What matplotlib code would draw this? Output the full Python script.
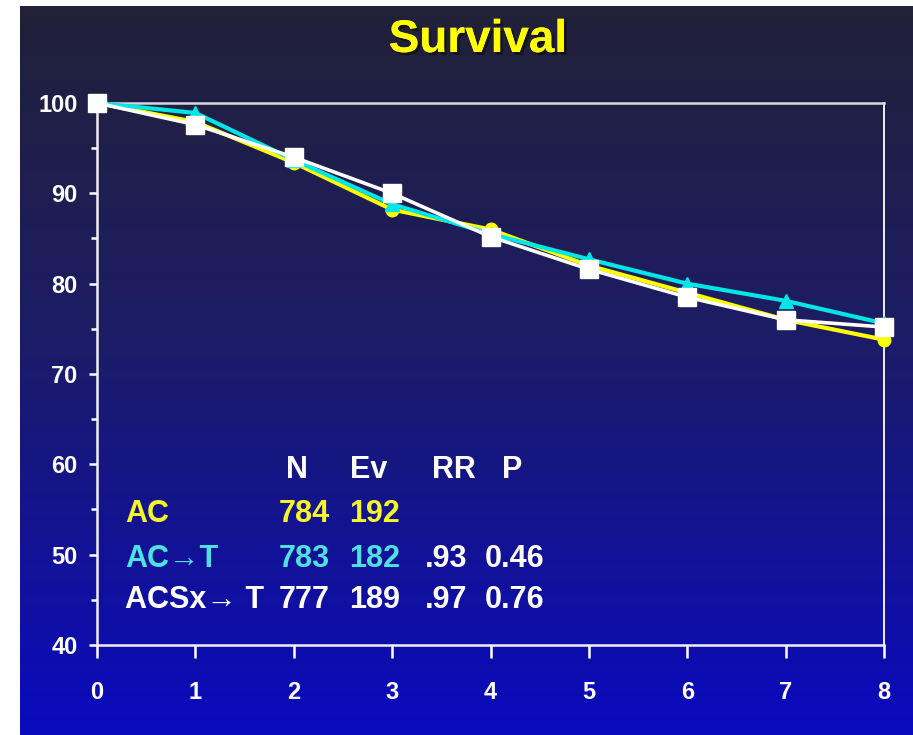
import numpy as np
import matplotlib
matplotlib.use("Agg")
import matplotlib.pyplot as plt
import matplotlib.patheffects as pe
from matplotlib.ticker import MultipleLocator

# ---- data ----
years = [0, 1, 2, 3, 4, 5, 6, 7, 8]
ac = [100, 97.9, 93.4, 88.2, 86.0, 82.0, 79.0, 76.0, 73.8]
ac_t = [100, 98.9, 93.7, 88.8, 85.5, 82.7, 80.0, 78.1, 75.6]
acsx_t = [100, 97.6, 94.0, 90.0, 85.2, 81.6, 78.5, 76.0, 75.2]
x_ticks = [0, 1, 2, 3, 4, 5, 6, 7, 8]
y_ticks = [40, 50, 60, 70, 80, 90, 100]
title = "Survival"
table_header = ["N", "Ev", "RR", "P"]
table_rows = ["AC", "AC\u2192T", "ACSx\u2192 T"]
table_n = ["784", "783", "777"]
table_ev = ["192", "182", "189"]
table_rr = ["", ".93", ".97"]
table_p = ["", "0.46", "0.76"]

W, H = 913, 735
fig = plt.figure(figsize=(W / 100, H / 100), dpi=100, facecolor="white")

# gradient background
bg = fig.add_axes([20 / W, 0, 1 - 20 / W, 729 / H], zorder=-10)
bg.axis("off")
n = 256
t = np.linspace(0, 1, n)[:, None]
top = np.array([0.13, 0.13, 0.22])
mid = np.array([0.11, 0.11, 0.40])
bot = np.array([0.04, 0.04, 0.75])
cols = np.where(t < 0.45, top + (mid - top) * (t / 0.45), mid + (bot - mid) * ((t - 0.45) / 0.55))
img = np.repeat(cols[:, None, :], 2, axis=1).reshape(n, 2, 3)
bg.imshow(img, aspect="auto", extent=[0, 1, 0, 1], interpolation="bicubic")
bg.set_xlim(0, 1); bg.set_ylim(0, 1)

narrow = ["Liberation Sans Narrow", "Liberation Sans", "DejaVu Sans"]
wide = ["Liberation Sans", "DejaVu Sans"]

ax = fig.add_axes([97 / W, 1 - 645 / H, (884 - 97) / W, (645 - 103) / H])
ax.set_facecolor("none")
ax.set_xlim(0, 8)
ax.set_ylim(40, 100)

ax.plot(years, ac, color="#ffff00", lw=3.0, marker="o", ms=9, mec="#ffff00", clip_on=False, zorder=3)
ax.plot(years, ac_t, color="#00e6e6", lw=3.0, marker="^", ms=10, mec="#00e6e6", clip_on=False, zorder=4)
ax.plot(years, acsx_t, color="white", lw=2.6, marker="s", ms=12.5, mec="white", clip_on=False, zorder=5)

for s in ax.spines.values():
    s.set_color("#f0f0f0")
    s.set_linewidth(1.8)
ax.spines["top"].set_color("#d8d8e0")
ax.spines["right"].set_linewidth(1.4)

ax.set_xticks(x_ticks)
ax.set_yticks(y_ticks)
ax.yaxis.set_minor_locator(MultipleLocator(5))
ax.tick_params(axis="x", which="major", direction="out", length=9, width=1.8, colors="white", pad=17)
ax.tick_params(axis="y", which="major", direction="out", length=6, width=1.8, colors="white", pad=8)
ax.tick_params(axis="y", which="minor", direction="out", length=4, width=1.8, colors="white")
for lab in ax.get_xticklabels() + ax.get_yticklabels():
    lab.set_fontfamily(narrow)
    lab.set_fontweight("bold")
    lab.set_fontsize(17)
    lab.set_color("white")

# title
fig.text(478 / W, 1 - 40 / H, title, ha="center", va="center", fontsize=33, fontweight="bold",
         family=narrow, color="#ffff00",
         path_effects=[pe.withSimplePatchShadow(offset=(2, -2), shadow_rgbFace="#101010", alpha=0.8), pe.Normal()])

# table
fs = 22
colors = ["#f5f528", "#4fe0e0", "white"]
base_y = [53.6, 48.6, 44.1]
hdr_y = 58.5
hdr_x = [2.03, 2.76, 3.63, 4.22]
for h, hx in zip(table_header, hdr_x):
    ax.text(hx, hdr_y, h, ha="center", va="baseline", fontsize=fs, fontweight="bold", family=wide, color="white")
for i in range(3):
    c = colors[i]
    y = base_y[i]
    ax.text(0.285, y, table_rows[i], ha="left", va="baseline", fontsize=fs, fontweight="bold", family=wide, color=c)
    ax.text(2.37, y, table_n[i], ha="right", va="baseline", fontsize=fs, fontweight="bold", family=wide, color=c)
    ax.text(2.82, y, table_ev[i], ha="center", va="baseline", fontsize=fs, fontweight="bold", family=wide, color=c)
    ax.text(3.55, y, table_rr[i], ha="center", va="baseline", fontsize=fs, fontweight="bold", family=wide, color="white")
    ax.text(4.24, y, table_p[i], ha="center", va="baseline", fontsize=fs, fontweight="bold", family=wide, color="white")

fig.savefig("out.png", dpi=100, facecolor="white")
